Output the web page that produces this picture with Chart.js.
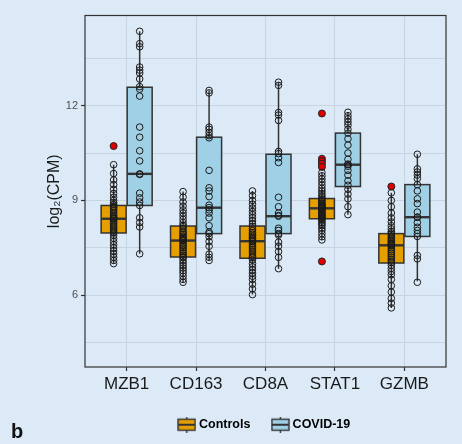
<!DOCTYPE html>
<html>
<head>
<meta charset="utf-8">
<script src="https://cdn.jsdelivr.net/npm/chart.js@4.4.1/dist/chart.umd.min.js"></script>
<style>
  html, body { margin: 0; padding: 0; background: #dce9f6; }
  #wrap { position: relative; width: 462px; height: 444px; background: #dce9f6; }
  #tag { position: absolute; left: 11px; top: 420px; font: bold 20px "Liberation Sans", Arial, sans-serif; color: #111; }
</style>
</head>
<body>
<div id="wrap">
  <canvas id="chart" width="462" height="444"></canvas>
  <div id="tag">b</div>
</div>
<script>
// categories and axis
const genes = ['MZB1', 'CD163', 'CD8A', 'STAT1', 'GZMB'];
const yTickValues = [4.5, 6, 7.5, 9, 10.5, 12, 13.5];
const yRange = [3.73, 14.85];

// box statistics (log2 CPM)
const ctrlLow = [7.0, 6.41, 6.02, 7.75, 5.6];
const ctrlQ1 = [7.97, 7.21, 7.17, 8.42, 7.02];
const ctrlMed = [8.42, 7.73, 7.71, 8.75, 7.58];
const ctrlQ3 = [8.84, 8.19, 8.19, 9.06, 7.95];
const ctrlHigh = [10.13, 9.28, 9.3, 9.88, 9.24];

const covLow = [7.31, 7.1, 6.84, 8.55, 6.44];
const covQ1 = [8.84, 7.95, 7.95, 9.44, 7.86];
const covMed = [9.84, 8.77, 8.5, 10.13, 8.47];
const covQ3 = [12.58, 11.0, 10.46, 11.13, 9.5];
const covHigh = [14.35, 12.48, 12.74, 11.79, 10.46];

// individual samples
const ctrlMZB1 = [10.13, 9.85, 9.65, 9.5, 9.35, 9.22, 9.1, 9.0, 8.93, 8.87, 8.82, 8.78, 8.73, 8.68, 8.62, 8.57, 8.52, 8.48, 8.45, 8.43,
  8.41, 8.36, 8.31, 8.26, 8.2, 8.15, 8.1, 8.05, 8.0, 7.97, 7.9, 7.8, 7.7, 7.6, 7.5, 7.4, 7.3, 7.2, 7.1, 7.0];
const ctrlCD163 = [9.28, 9.1, 8.95, 8.82, 8.7, 8.6, 8.5, 8.4, 8.3, 8.22, 8.17, 8.1, 8.03, 7.97, 7.92, 7.87, 7.83, 7.79, 7.76, 7.74,
  7.72, 7.66, 7.6, 7.55, 7.5, 7.44, 7.38, 7.32, 7.27, 7.22, 7.18, 7.1, 7.02, 6.94, 6.86, 6.78, 6.7, 6.6, 6.5, 6.41];
const ctrlCD8A = [9.3, 9.15, 9.0, 8.88, 8.76, 8.65, 8.55, 8.45, 8.35, 8.25, 8.17, 8.1, 8.04, 7.98, 7.93, 7.88, 7.83, 7.79, 7.75, 7.72,
  7.7, 7.64, 7.58, 7.52, 7.46, 7.4, 7.34, 7.28, 7.23, 7.19, 7.12, 7.0, 6.9, 6.8, 6.7, 6.6, 6.5, 6.35, 6.2, 6.02];
const ctrlSTAT1 = [9.88, 9.78, 9.68, 9.58, 9.48, 9.38, 9.3, 9.22, 9.15, 9.09, 9.04, 9.0, 8.96, 8.92, 8.88, 8.85, 8.82, 8.8, 8.78, 8.76,
  8.73, 8.7, 8.66, 8.62, 8.58, 8.55, 8.52, 8.49, 8.46, 8.43, 8.4, 8.35, 8.3, 8.25, 8.2, 8.12, 8.05, 7.95, 7.85, 7.75];
const ctrlGZMB = [9.24, 9.0, 8.8, 8.6, 8.45, 8.32, 8.2, 8.1, 8.02, 7.97, 7.93, 7.88, 7.83, 7.78, 7.74, 7.7, 7.66, 7.63, 7.61, 7.59,
  7.56, 7.5, 7.44, 7.38, 7.32, 7.26, 7.2, 7.14, 7.08, 7.03, 6.95, 6.85, 6.75, 6.65, 6.5, 6.3, 6.1, 5.9, 5.75, 5.6];

const covMZB1 = [14.35, 13.96, 13.86, 13.22, 13.12, 13.03, 12.84, 12.6, 12.52, 12.3, 11.32, 11.0, 10.57, 10.25, 9.84, 9.82,
  9.23, 9.08, 8.95, 8.84, 8.45, 8.3, 8.16, 7.31];
const covCD163 = [12.48, 12.4, 11.32, 11.25, 11.15, 11.05, 10.98, 9.95, 9.4, 9.3, 9.12, 8.85, 8.77, 8.7, 8.6, 8.45, 8.2, 8.0,
  7.95, 7.85, 7.7, 7.55, 7.3, 7.2, 7.1];
const covCD8A = [12.74, 12.64, 11.78, 11.7, 11.53, 10.55, 10.48, 10.35, 10.2, 9.1, 8.8, 8.6, 8.52, 8.5, 8.12, 8.05, 7.95, 7.9,
  7.68, 7.55, 7.38, 7.2, 6.84];
const covSTAT1 = [11.79, 11.68, 11.58, 11.48, 11.38, 11.25, 11.13, 10.95, 10.75, 10.5, 10.3, 10.15, 10.13, 10.08, 9.95, 9.8,
  9.62, 9.48, 9.35, 9.2, 9.05, 8.8, 8.55];
const covGZMB = [10.46, 10.0, 9.9, 9.8, 9.69, 9.5, 9.3, 9.05, 8.9, 8.63, 8.47, 8.47, 8.3, 8.15, 8.05, 7.95, 7.86, 7.26, 7.15, 6.41];

// outliers (controls only), as [gene index, value]
const ctrlOutliers = [[0, 10.72], [3, 11.75], [3, 10.32], [3, 10.24], [3, 10.16], [3, 10.06], [3, 7.07], [4, 9.44]];

const ctrlPoints = [ctrlMZB1, ctrlCD163, ctrlCD8A, ctrlSTAT1, ctrlGZMB];
const covPoints = [covMZB1, covCD163, covCD8A, covSTAT1, covGZMB];

const ctrlFill = '#e69f00';
const covFill = '#9fd0e6';
const ink = '#333333';
const dodge = 0.1875;
const boxWidth = 0.36;

Chart.defaults.font.family = '"Liberation Sans", Arial, sans-serif';
Chart.defaults.color = '#1a1a1a';

function toPoints(lists, offset) {
  const out = [];
  lists.forEach((vals, i) => vals.forEach(v => out.push({ x: i + 1 + offset, y: v })));
  return out;
}

const groups = [
  { offset: -dodge, low: ctrlLow, q1: ctrlQ1, med: ctrlMed, q3: ctrlQ3, high: ctrlHigh, fill: ctrlFill },
  { offset: dodge, low: covLow, q1: covQ1, med: covMed, q3: covQ3, high: covHigh, fill: covFill }
];

const boxPlugin = {
  id: 'boxes',
  beforeDatasetsDraw(chart) {
    const { ctx, scales: { x, y } } = chart;
    const half = (x.getPixelForValue(boxWidth) - x.getPixelForValue(0)) / 2;
    ctx.save();
    groups.forEach(g => {
      genes.forEach((name, i) => {
        const cx = x.getPixelForValue(i + 1 + g.offset);
        const top = y.getPixelForValue(g.q3[i]);
        const bot = y.getPixelForValue(g.q1[i]);
        ctx.strokeStyle = ink;
        ctx.lineWidth = 1.5;
        ctx.beginPath();
        ctx.moveTo(cx, y.getPixelForValue(g.high[i]));
        ctx.lineTo(cx, top);
        ctx.moveTo(cx, bot);
        ctx.lineTo(cx, y.getPixelForValue(g.low[i]));
        ctx.stroke();
        ctx.fillStyle = g.fill;
        ctx.fillRect(cx - half, top, half * 2, bot - top);
        ctx.strokeRect(cx - half, top, half * 2, bot - top);
        ctx.lineWidth = 2.4;
        const m = y.getPixelForValue(g.med[i]);
        ctx.beginPath();
        ctx.moveTo(cx - half, m);
        ctx.lineTo(cx + half, m);
        ctx.stroke();
      });
    });
    ctx.restore();
  },
  afterDatasetsDraw(chart) {
    const { ctx, chartArea: a } = chart;
    ctx.save();
    ctx.strokeStyle = ink;
    ctx.lineWidth = 1.2;
    ctx.strokeRect(a.left, a.top, a.right - a.left, a.bottom - a.top);
    ctx.restore();
  }
};

function legendIcon(fill) {
  const c = document.createElement('canvas');
  c.width = 19; c.height = 16;
  const g = c.getContext('2d');
  g.strokeStyle = ink;
  g.lineWidth = 1.4;
  g.beginPath(); g.moveTo(9.5, 0); g.lineTo(9.5, 16); g.stroke();
  g.fillStyle = fill;
  g.fillRect(1, 2.5, 17, 11);
  g.strokeRect(1, 2.5, 17, 11);
  g.lineWidth = 2;
  g.beginPath(); g.moveTo(1, 8); g.lineTo(18, 8); g.stroke();
  return c;
}

const pointStyle = { pointRadius: 3.3, pointBorderWidth: 1, pointBorderColor: '#1a1a1a', pointBackgroundColor: 'rgba(0,0,0,0)' };

new Chart(document.getElementById('chart'), {
  type: 'scatter',
  data: {
    datasets: [
      Object.assign({ label: 'Controls', data: toPoints(ctrlPoints, -dodge) }, pointStyle),
      Object.assign({ label: 'COVID-19', data: toPoints(covPoints, dodge) }, pointStyle),
      {
        label: 'outliers',
        data: ctrlOutliers.map(o => ({ x: o[0] + 1 - dodge, y: o[1] })),
        pointRadius: 3.5, pointBorderWidth: 1, pointBorderColor: '#222', pointBackgroundColor: '#e00000'
      }
    ]
  },
  options: {
    responsive: false,
    animation: false,
    events: [],
    layout: { padding: { left: 0, top: 15.5, right: 16, bottom: 3 } },
    plugins: {
      tooltip: { enabled: false },
      legend: {
        position: 'bottom',
        fullSize: false,
        labels: {
          usePointStyle: true,
          pointStyleWidth: 12,
          padding: 24,
          color: '#1a1a1a',
          font: { size: 12.5, weight: 'bold' },
          generateLabels: () => [
            { text: 'Controls', pointStyle: legendIcon(ctrlFill), fillStyle: ctrlFill, strokeStyle: ink, lineWidth: 0, hidden: false, datasetIndex: 0 },
            { text: 'COVID-19', pointStyle: legendIcon(covFill), fillStyle: covFill, strokeStyle: ink, lineWidth: 0, hidden: false, datasetIndex: 1 }
          ]
        }
      }
    },
    scales: {
      x: {
        type: 'linear',
        min: 0.4,
        max: 5.6,
        afterBuildTicks: s => { s.ticks = genes.map((g, i) => ({ value: i + 1 })); },
        afterFit: s => { s.height = 27.5; },
        ticks: {
          autoSkip: false,
          maxRotation: 0,
          padding: 3,
          color: '#1a1a1a',
          font: { size: 17 },
          callback: v => genes[v - 1]
        },
        grid: { color: '#c8d4e1', lineWidth: 1, tickColor: ink, tickLength: 4, tickWidth: 1.2 },
        border: { display: false }
      },
      y: {
        min: yRange[0],
        max: yRange[1],
        afterBuildTicks: s => { s.ticks = yTickValues.map(v => ({ value: v })); },
        afterFit: s => { s.width = 85; },
        ticks: {
          padding: 3,
          color: '#4d4d4d',
          font: { size: 11 },
          callback: v => (v % 3 === 0 ? String(v) : '')
        },
        grid: {
          color: '#c8d4e1',
          lineWidth: 1,
          tickLength: 4,
          tickWidth: 1.2,
          tickColor: c => (c.tick && c.tick.value % 3 === 0 ? ink : 'rgba(0,0,0,0)')
        },
        border: { display: false },
        title: {
          display: true,
          text: 'log₂(CPM)',
          color: '#1a1a1a',
          font: { size: 16 },
          padding: { top: 45, bottom: 0 }
        }
      }
    }
  },
  plugins: [boxPlugin]
});
</script>
</body>
</html>
